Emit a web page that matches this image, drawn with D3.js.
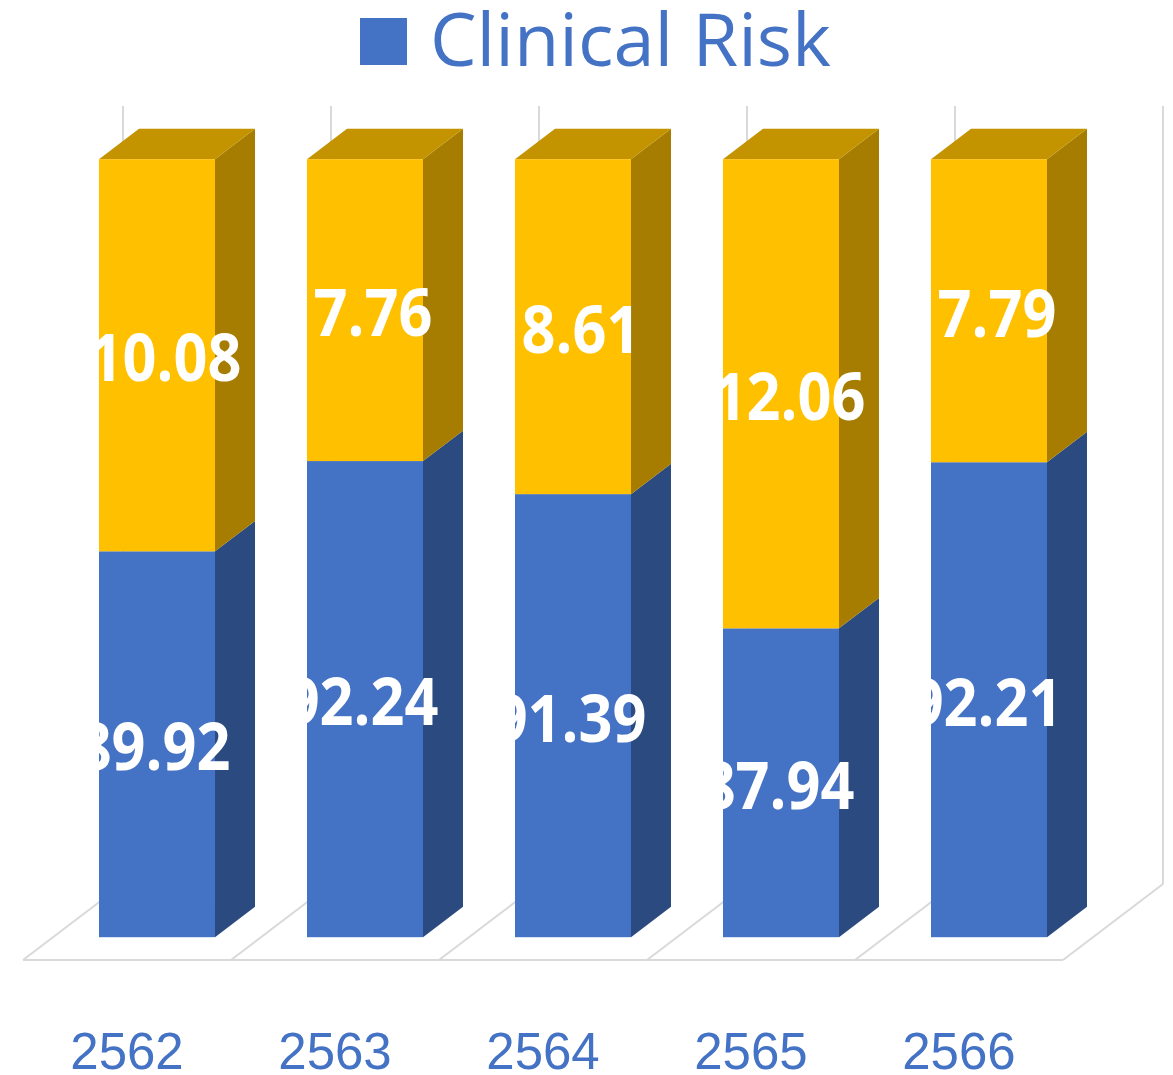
<!DOCTYPE html>
<html>
<head>
<meta charset="utf-8">
<script src="https://cdn.jsdelivr.net/npm/d3@7"></script>
<style>
  html, body { margin: 0; padding: 0; background: #fff; }
  svg { display: block; }
</style>
</head>
<body>
<div id="chart"></div>
<script>
// ---- data ----
const years = ["2562", "2563", "2564", "2565", "2566"];
const clinicalRisk = [89.92, 92.24, 91.39, 87.94, 92.21];
const otherRisk = [10.08, 7.76, 8.61, 12.06, 7.79];
const seriesKeys = ["clinical", "other"];
const legendLabels = ["Clinical Risk"];

const W = 1173, H = 1075;
const DX = 100, DY = -76;          // floor depth vector (front -> back)
const F0 = 0.3, F1 = 0.7;          // bar depth (fraction of floor depth)

const colors = {
  clinical: { front: "#4472C4", side: "#2B4A80", top: "#34599C" },
  other:    { front: "#FFC000", side: "#A67D00", top: "#C49300" }
};

const rows = years.map((y, i) => ({ year: y, clinical: clinicalRisk[i], other: otherRisk[i] }));
const stacked = d3.stack().keys(seriesKeys)(rows);

const svg = d3.select("#chart").append("svg").attr("width", W).attr("height", H);

const x = d3.scaleBand().domain(years).range([23, 1063])
  .paddingInner(0.4423).paddingOuter(0.2212);
const y = d3.scaleLinear().domain([80, 100]).range([960, 182]).clamp(true);

// project a point (front x, value, depth fraction)
const P = (px, v, f) => [px + f * DX, y(v) + f * DY];
const pts = (arr) => arr.map((p) => p.join(",")).join(" ");

// ---- floor & back wall ----
const grid = svg.append("g").attr("fill", "none").attr("stroke", "#D9D9D9").attr("stroke-width", 2);
const step = x.step(), x0 = 23, x1 = 1063;
grid.append("line").attr("x1", x0).attr("x2", x1).attr("y1", y(80)).attr("y2", y(80));
d3.range(years.length + 1).forEach((k) => {
  const fx = x0 + k * step;
  const a = P(fx, 80, 0), b = P(fx, 80, 1), c = P(fx, 100, 1);
  grid.append("line").attr("x1", a[0]).attr("y1", a[1]).attr("x2", b[0]).attr("y2", b[1]);
  grid.append("line").attr("x1", b[0]).attr("y1", b[1]).attr("x2", c[0]).attr("y2", c[1]);
});

// ---- bars ----
const bw = x.bandwidth();
const bars = svg.append("g");
stacked.forEach((layer, li) => {
  const key = layer.key, col = colors[key];
  layer.forEach((d) => {
    const L = x(d.data.year), R = L + bw;
    const lo = Math.max(d[0], 80), hi = d[1];
    // side face
    bars.append("polygon").attr("fill", col.side)
      .attr("points", pts([P(R, lo, F0), P(R, lo, F1), P(R, hi, F1), P(R, hi, F0)]));
    // top face (only visible on the top segment)
    if (li === stacked.length - 1) {
      bars.append("polygon").attr("fill", col.top)
        .attr("points", pts([P(L, hi, F0), P(R, hi, F0), P(R, hi, F1), P(L, hi, F1)]));
    }
    // front face
    const a = P(L, hi, F0), b = P(R, lo, F0);
    bars.append("rect").attr("fill", col.front)
      .attr("x", a[0]).attr("y", a[1]).attr("width", b[0] - a[0]).attr("height", b[1] - a[1]);
  });
});

// ---- data labels (clipped at the left edge of each bar) ----
const defs = svg.append("defs");
years.forEach((yr, i) => {
  const left = P(x(yr), 100, F0)[0];
  defs.append("clipPath").attr("id", "clip" + i)
    .append("rect").attr("x", left).attr("y", 0).attr("width", 400).attr("height", H);
});
const labelDx = { clinical: -3, other: 8 };
const labels = svg.append("g")
  .style("font-family", "'Open Sans', sans-serif").style("font-weight", 700)
  .style("font-size", "66px").attr("fill", "#fff").attr("text-anchor", "middle");
stacked.forEach((layer) => {
  layer.forEach((d, i) => {
    const cx = P(x(d.data.year) + bw / 2, 80, F0)[0] + labelDx[layer.key];
    const cy = (P(0, Math.max(d[0], 80), F0)[1] + P(0, d[1], F0)[1]) / 2;
    labels.append("g").attr("clip-path", `url(#clip${i})`)
      .append("text")
      .attr("transform", `translate(${cx},${cy + 26}) scale(0.9,1)`)
      .text((d[1] - d[0]).toFixed(2));
  });
});

// ---- category axis ----
svg.append("g").selectAll("text").data(years).join("text")
  .attr("x", (d) => x(d) - x.step() * x.paddingInner() / 2 + x.step() / 2)
  .attr("y", 1069).attr("text-anchor", "middle").attr("fill", "#4472C4")
  .style("font-family", "'Liberation Sans', Arial, sans-serif").style("font-size", "51px")
  .text((d) => d);

// ---- legend ----
const lg = svg.append("g");
lg.append("rect").attr("x", 360).attr("y", 18).attr("width", 47).attr("height", 47).attr("fill", colors.clinical.front);
lg.append("text").attr("x", 430).attr("y", 66).attr("fill", "#4472C4")
  .style("font-family", "'Open Sans', sans-serif").style("font-size", "74px")
  .text(legendLabels[0]);
</script>
</body>
</html>
